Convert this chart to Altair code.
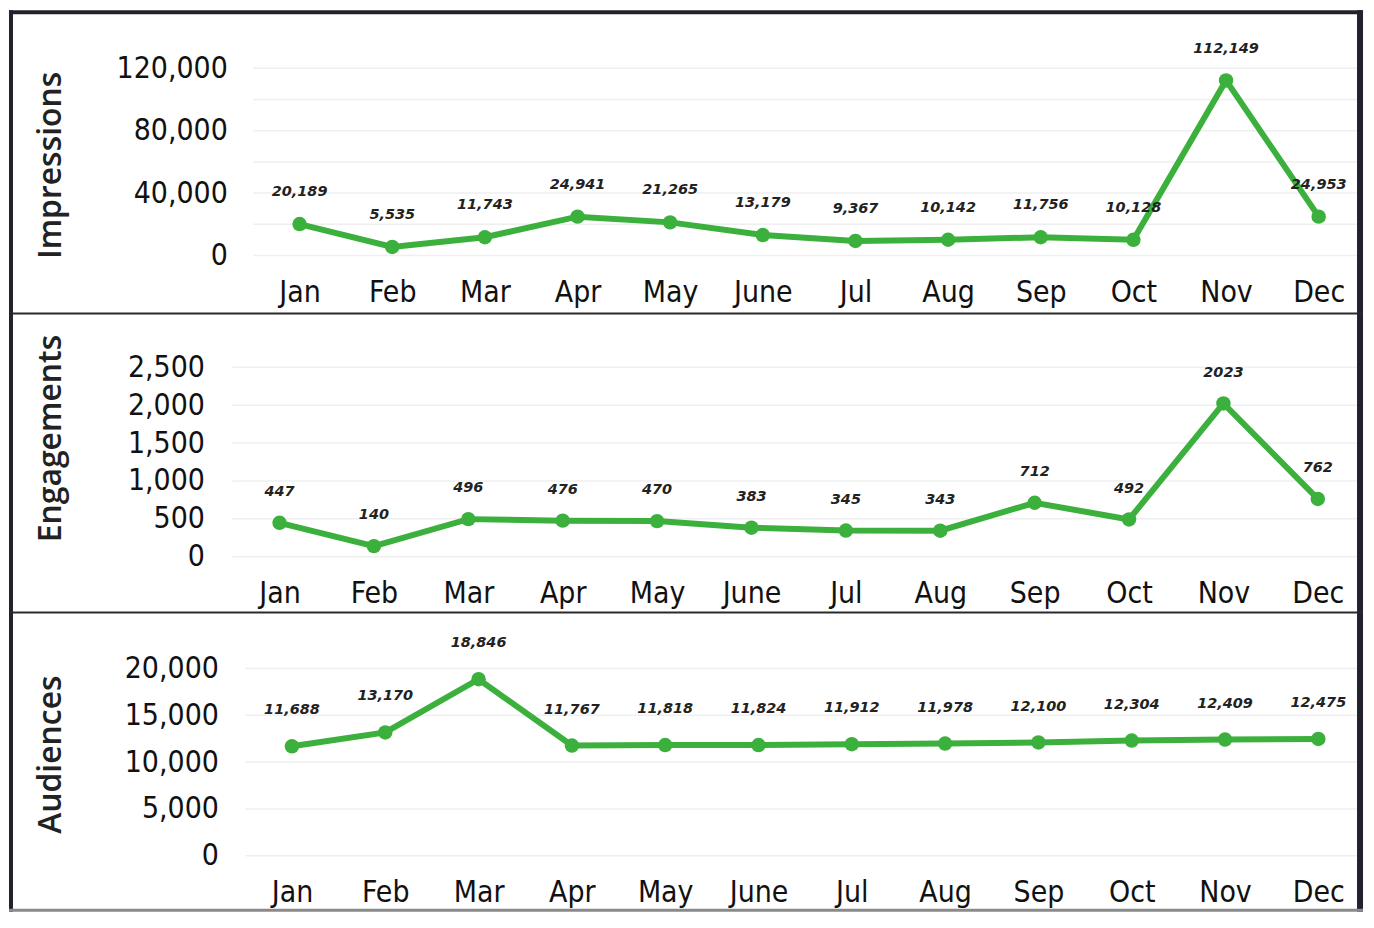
import altair as alt
import pandas as pd

months = ["Jan", "Feb", "Mar", "Apr", "May", "June", "Jul", "Aug", "Sep", "Oct", "Nov", "Dec"]
impressions = [20189, 5535, 11743, 24941, 21265, 13179, 9367, 10142, 11756, 10128, 112149, 24953]
engagements = [447, 140, 496, 476, 470, 383, 345, 343, 712, 492, 2023, 762]
eng_labels = ["447", "140", "496", "476", "470", "383", "345", "343", "712", "492", "2023", "762"]
audiences = [11688, 13170, 18846, 11767, 11818, 11824, 11912, 11978, 12100, 12304, 12409, 12475]

imp_ticks = [0, 20000, 40000, 60000, 80000, 100000, 120000]
eng_ticks = [0, 500, 1000, 1500, 2000, 2500]
aud_ticks = [0, 5000, 10000, 15000, 20000]

GREEN = "#3cb03c"
BORDER = "#22222e"
COND = "DejaVu Sans Condensed"
LABEL_FONT = "DejaVu Sans"
TITLE_FONT = "Open Sans"

ORIGIN_X = 232          # common plot origin (page px)
BOX_LEFT, BOX_RIGHT = 8, 1366
PLOT_W = BOX_RIGHT - 6 - ORIGIN_X   # plot area ends at inner edge of right border
RANGE_END = 1136


def fmt(v):
    return f"{v:,}"


def panel(values, labels, title, ticks, label_every, H, range_start, plot_top,
          box_top, box_bottom, title_y, label_dy, ylab_pad, top_border, bottom_kind):
    df = pd.DataFrame({"month": months, "value": values, "label": labels})
    base = alt.Chart(df)
    x = alt.X("month:N", sort=months, title=None,
              scale=alt.Scale(type="point", padding=0.5, range=[range_start, RANGE_END]),
              axis=alt.Axis(labelFont=COND, labelFontSize=30, labelColor="#111",
                            labelBaseline="alphabetic", labelPadding=46,
                            ticks=False, tickSize=0, domain=False, grid=False,
                            labelAngle=0, labelOverlap=False))
    yscale = alt.Scale(domain=[0, ticks[-1]], nice=False)
    y = alt.Y("value:Q", title=title, scale=yscale,
              axis=alt.Axis(values=ticks, tickCount=20,
                            labelExpr=f"datum.value % {label_every} === 0 ? datum.label : ''",
                            labelFont=COND, labelFontSize=30, labelColor="#111",
                            labelPadding=ylab_pad, ticks=False, tickSize=0, domain=False,
                            grid=False, labelOverlap=False,
                            titleFont=TITLE_FONT, titleFontSize=32, titleFontWeight=600,
                            titleColor="#222", titleAngle=270, titleBaseline="alphabetic",
                            titleAlign="center", titleX=60 - ORIGIN_X, titleY=title_y))

    grid_df = pd.DataFrame({"tick": ticks})
    grid = alt.Chart(grid_df).mark_rule(color="#efefef", strokeWidth=1.5).encode(
        y=alt.Y("tick:Q", scale=yscale), x=alt.value(range_start), x2=alt.value(PLOT_W))

    line = base.mark_line(color=GREEN, strokeWidth=6).encode(x=x, y=y)
    pts = base.mark_circle(color=GREEN, size=210, opacity=1).encode(x=x, y=y)
    txt = base.mark_text(font=LABEL_FONT, fontSize=14.5, fontStyle="italic", fontWeight="bold",
                         color="#222", dy=label_dy).encode(x=x, y=y, text="label:N")

    one = alt.Data(values=[{"k": 1}])
    L = BOX_LEFT - ORIGIN_X
    R = BOX_RIGHT - ORIGIN_X
    T = box_top - plot_top
    B = box_bottom - plot_top

    def rect(x1, x2, y1, y2, color):
        return alt.Chart(one).mark_rect(color=color, opacity=1).encode(
            x=alt.value(x1), x2=alt.value(x2), y=alt.value(y1), y2=alt.value(y2))

    deco = [rect(L, L + 4, T, B, BORDER), rect(R - 6, R, T, B, BORDER)]
    if top_border:
        deco.append(rect(L, R, T, T + 4, BORDER))
    if bottom_kind == "sep":
        deco.append(rect(L, R, B - 1, B + 1, "#2a2a2a"))
    else:
        deco.append(rect(L, R, B - 3, B, "#8a8a8a"))
    return alt.layer(grid, line, pts, txt, *deco).properties(width=PLOT_W, height=H)


# page layout: P1 plot 66..254, P2 plot 366..556, P3 plot 668..856 (spacing 112)
p1 = panel(impressions, [fmt(v) for v in impressions], "Impressions", imp_ticks, 40000,
           188, 21, 66, 8, 312, 97, -32, 5, True, "sep")
p2 = panel(engagements, eng_labels, "Engagements", eng_ticks, 500,
           190, 0, 366, 312, 612, 71, -31, 28, False, "sep")
p3 = panel(audiences, [fmt(v) for v in audiences], "Audiences", aud_ticks, 5000,
           188, 13, 668, 612, 912, 86, -36, 14, False, "bottom")

chart = alt.vconcat(p1, p2, p3, spacing=112, bounds="flush").properties(padding=0).configure(
    background="white").configure_view(stroke="transparent")

chart.save("out.html", embed_options={"renderer": "svg", "actions": False})
